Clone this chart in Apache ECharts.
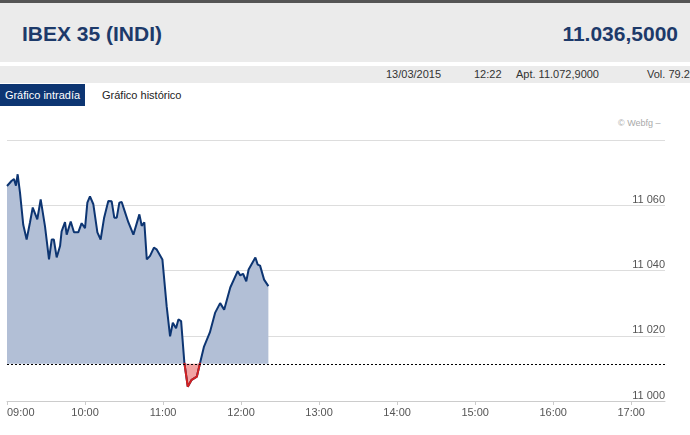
<!DOCTYPE html>
<html><head><meta charset="utf-8">
<script src="https://cdn.jsdelivr.net/npm/echarts@6/dist/echarts.min.js"></script>
<style>
body{margin:0;width:690px;height:435px;overflow:hidden;font-family:"Liberation Sans",Arial,sans-serif;background:#fff;position:relative}
#hdr{position:absolute;left:0;top:0;width:690px;height:62px;background:#ebebeb;border-top:3px solid #555;box-sizing:border-box}
#t1{position:absolute;left:22px;top:19px;font-size:21px;color:#1d3a6a;font-weight:bold}
#t2{position:absolute;right:12px;top:19px;font-size:21px;color:#1d3a6a;font-weight:bold}
#bar{position:absolute;left:0;top:66px;width:690px;height:17px;background:#ebebeb;font-size:11px;color:#333}
#bar span{position:absolute;top:2px}
#tab{position:absolute;left:0;top:84px;width:85px;height:22px;background:#0d3572;color:#fff;font-size:11px;line-height:22px;text-align:center}
#tab2{position:absolute;left:102px;top:84px;height:22px;line-height:22px;font-size:11px;color:#222}
#wm{position:absolute;left:618px;top:118px;font-size:9px;color:#aaa}
#c{position:absolute;left:0;top:0;width:690px;height:435px}
</style></head><body>
<div id="hdr"><div id="t1">IBEX 35 (INDI)</div><div id="t2">11.036,5000</div></div>
<div id="bar"><span style="left:386px">13/03/2015</span><span style="left:474px">12:22</span><span style="left:516px">Apt. 11.072,9000</span><span style="left:647px">Vol. 79.2</span></div>
<div id="tab">Gráfico intradía</div><div id="tab2">Gráfico histórico</div>
<div id="wm">© Webfg –</div>
<div id="c"></div>
<script>
const minutes=[0,3.6,5.4,6.9,8.2,10,12.5,15.1,17.7,19.8,23.3,25.9,29.2,32.3,34.4,36,38.2,40.8,42,44.6,45.9,49,51.5,54.8,57.4,60,61.8,63.8,66.4,69.5,72,74.6,77.9,80.5,82.5,84.4,86.4,88.2,90.8,93.3,97.2,101.8,103.6,105.6,107.5,110,113,115,119.5,122.8,125.4,127.5,130,131.8,133.9,136.4,139,142,146,148.5,151.5,156,160,163.9,167,171.7,177.4,179.4,181.5,184,185.8,191,192.8,194.6,197.7,201];
const values=[11065.9,11067.5,11068,11066,11069.5,11063.9,11054,11049.5,11054.8,11059.3,11055.7,11061.8,11053.6,11043.4,11049.5,11049.5,11044,11047.5,11052,11054.8,11051,11055,11051.7,11051.7,11054.5,11053,11060.8,11062.7,11060.3,11051.7,11049.5,11056,11061.3,11061.2,11056.2,11056.2,11060.8,11061,11057.8,11054.8,11051,11057.2,11053.7,11054.8,11043.4,11044.5,11047,11046.5,11043.4,11029,11019.8,11024,11022.3,11025,11024.5,11011.7,11004.4,11006.5,11007.5,11011.7,11016.7,11021,11027,11030,11028,11034.8,11039.8,11038.5,11039,11036.7,11040.3,11044,11041.8,11041.5,11037.2,11035.2];
const baseline=11011.4;
const yTicks=[11000,11020,11040,11060,11080];
const hourLabels=['09:00','10:00','11:00','12:00','13:00','14:00','15:00','16:00','17:00'];
const upData=minutes.map((m,i)=>[m,Math.max(values[i],baseline)]);
const dnData=minutes.map((m,i)=>[m,Math.min(values[i],baseline)]);
const lineData=minutes.map((m,i)=>[m,values[i]]);
const below=i=>i>=0&&i<values.length&&values[i]<baseline;
const redData=minutes.map((m,i)=>(below(i)||below(i-1)||below(i+1))?[m,values[i]]:[m,null]);
const ch=echarts.init(document.getElementById('c'));
ch.setOption({
 animation:false,
 grid:{left:7,right:25,top:140,bottom:34},
 xAxis:{type:'value',min:0,max:506,interval:60,
  axisLine:{lineStyle:{color:'#ccc'}},axisTick:{show:true,length:4,lineStyle:{color:'#ccc'}},
  splitLine:{show:false},
  axisLabel:{color:'#555',fontSize:11,margin:6,alignMinLabel:'left',showMaxLabel:false,
   formatter:v=>hourLabels[Math.round(v/60)]||''}},
 yAxis:{type:'value',position:'right',min:yTicks[0],max:yTicks[yTicks.length-1],interval:20,
  axisLine:{show:false},axisTick:{show:false},
  splitLine:{lineStyle:{color:'#ddd'}},
  axisLabel:{inside:true,showMaxLabel:false,color:'#555',fontSize:11,margin:0,verticalAlign:'bottom',
   formatter:v=>String(v).replace(/^(\d+)(\d{3})$/,'$1 $2')}},
 series:[
  {type:'line',data:upData,symbol:'none',lineStyle:{width:0},areaStyle:{color:'#b2bfd6',opacity:1,origin:baseline}},
  {type:'line',data:dnData,symbol:'none',lineStyle:{width:0},areaStyle:{color:'#f2a3a3',opacity:1,origin:baseline}},
  {type:'line',data:lineData,symbol:'none',lineStyle:{width:2,color:'#0d3572'}},
  {type:'line',data:redData,symbol:'none',connectNulls:false,lineStyle:{width:2,color:'#d42020'},
   markLine:{silent:true,symbol:'none',label:{show:false},lineStyle:{type:[2,2],color:'#000',width:1},data:[{yAxis:baseline}]}}
 ]
});
</script></body></html>
